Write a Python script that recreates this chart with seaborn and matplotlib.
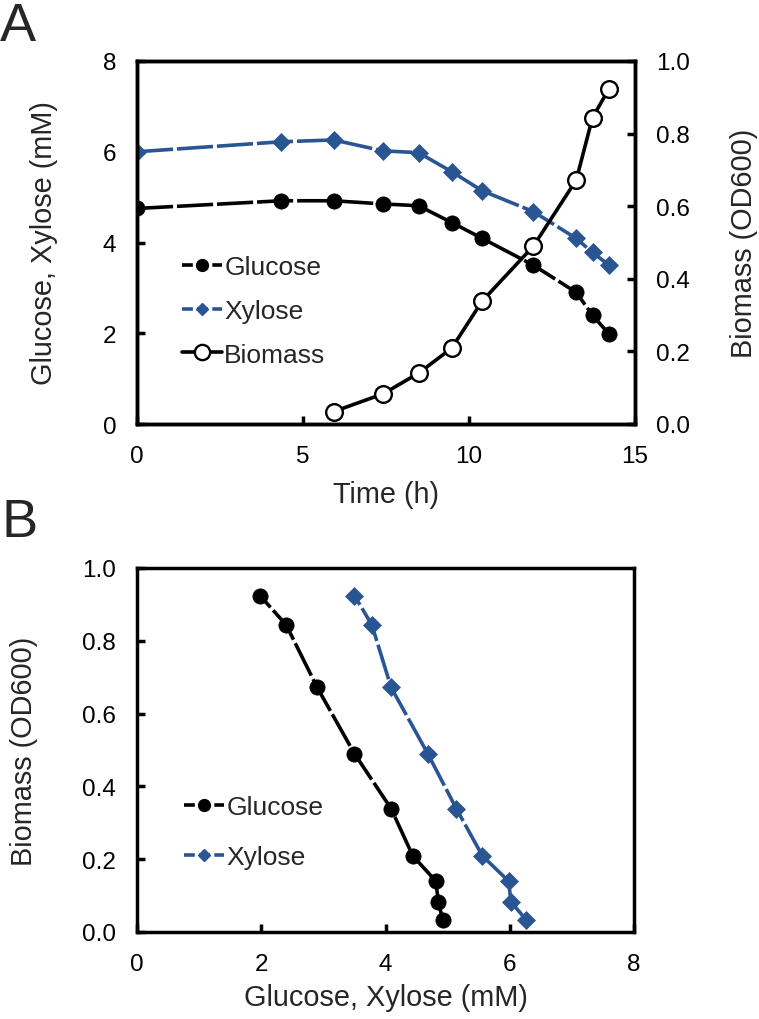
import numpy as np
import pandas as pd
import matplotlib
matplotlib.use("Agg")
import matplotlib.pyplot as plt
from matplotlib.lines import Line2D
import seaborn as sns

# ---- data ----
time_h = [0, 4.35, 5.92, 7.41, 8.48, 9.48, 10.40, 11.94, 13.23, 13.72, 14.22]
glucose = [4.75, 4.92, 4.92, 4.85, 4.81, 4.44, 4.09, 3.50, 2.90, 2.40, 1.98]
xylose = [6.00, 6.22, 6.26, 6.02, 5.98, 5.56, 5.14, 4.68, 4.09, 3.78, 3.50]
biomass_time = [5.92, 7.41, 8.48, 9.48, 10.40, 11.94, 13.23, 13.72, 14.22]
biomass = [0.034, 0.083, 0.140, 0.209, 0.339, 0.490, 0.672, 0.844, 0.924]
# panel B pairs (sugar at biomass time points)
glucose_b = [4.92, 4.85, 4.81, 4.44, 4.09, 3.50, 2.90, 2.40, 1.98]
xylose_b = [6.26, 6.02, 5.98, 5.56, 5.14, 4.68, 4.09, 3.78, 3.50]

x_ticks_a = [0, 5, 10, 15]
y_ticks_a = [0, 2, 4, 6, 8]
y2_ticks_a = [0.0, 0.2, 0.4, 0.6, 0.8, 1.0]
x_ticks_b = [0, 2, 4, 6, 8]
y_ticks_b = [0.0, 0.2, 0.4, 0.6, 0.8, 1.0]

sns.set_style("ticks")
plt.rcParams['font.family'] = ['Liberation Sans', 'DejaVu Sans']

BLUE = '#2A5593'
BLACK = '#000000'
LW = 2.6
DASH = (0, (10, 1.1))
TICK_FS = 17.5
LABEL_FS = 20.8
LEG_FS = 19
SPINE_W = 2.5

fig = plt.figure(figsize=(7.59, 10.2), dpi=100)
axA = fig.add_axes([137/759, 1-425/1020, 498/759, 363/1020])
axB = fig.add_axes([137/759, 1-933/1020, 497/759, 364/1020])

def style_axes(ax):
    for sp in ax.spines.values():
        sp.set_linewidth(SPINE_W)
        sp.set_color('black')
        sp.set_visible(True)
    ax.tick_params(direction='in', length=6, width=SPINE_W, labelsize=TICK_FS,
                   pad=15, colors='black')

# ---- Panel A ----
dfA = pd.DataFrame({'t': time_h, 'glc': glucose, 'xyl': xylose})
dfBio = pd.DataFrame({'t': biomass_time, 'bio': biomass})

sns.lineplot(data=dfA, x='t', y='xyl', ax=axA, color=BLUE, linewidth=LW,
             linestyle=DASH, marker='D', markersize=9, markeredgewidth=0.5,
             markeredgecolor=BLUE, markerfacecolor=BLUE, estimator=None, sort=False)
sns.lineplot(data=dfA, x='t', y='glc', ax=axA, color=BLACK, linewidth=LW,
             linestyle=DASH, marker='o', markersize=11, markeredgewidth=0.5,
             markeredgecolor=BLACK, markerfacecolor=BLACK, estimator=None, sort=False)
axA.set_xlim(0, 15)
axA.set_ylim(0, 8)
axA.set_xticks(x_ticks_a)
axA.set_yticks(y_ticks_a)
axA.set_xlabel('Time (h)', fontsize=LABEL_FS)
axA.set_ylabel('Glucose, Xylose (mM)', fontsize=LABEL_FS)
style_axes(axA)

axA2 = axA.twinx()
sns.lineplot(data=dfBio, x='t', y='bio', ax=axA2, color=BLACK, linewidth=LW,
             marker='o', markersize=12, markeredgewidth=1.7,
             markeredgecolor=BLACK, markerfacecolor='white', estimator=None, sort=False)
axA2.set_ylim(0, 1)
axA2.set_yticks(y2_ticks_a)
axA2.set_yticklabels([f'{v:.1f}' for v in y2_ticks_a])
axA2.set_ylabel('Biomass (OD600)', fontsize=LABEL_FS)
style_axes(axA2)
axA2.tick_params(axis='y', right=True, left=False)

axA.xaxis.set_label_coords(0.5, -0.155)
axA.yaxis.set_label_coords((58-137)/498, 0.5)
axA2.yaxis.set_label_coords((730-137)/498, 0.5)

h_glc = Line2D([], [], color=BLACK, lw=LW, ls=(0, (3, 1.2)), marker='o', ms=8.5,
               mfc=BLACK, mec=BLACK)
h_xyl = Line2D([], [], color=BLUE, lw=LW, ls=(0, (3, 1.2)), marker='D', ms=6,
               mfc=BLUE, mec=BLUE)
h_bio = Line2D([], [], color=BLACK, lw=LW, ls='-', marker='o', ms=11,
               mfc='white', mec=BLACK, mew=1.7)
legA = axA2.legend([h_glc, h_xyl, h_bio], ['Glucose', 'Xylose', 'Biomass'],
                   loc='upper left', bbox_to_anchor=((182-137)/498, (425-256)/363),
                   frameon=False, fontsize=LEG_FS, handlelength=1.5,
                   handletextpad=0.1, labelspacing=0.75, borderaxespad=0,
                   borderpad=0)

# ---- Panel B ----
dfB = pd.DataFrame({'glc': glucose_b, 'xyl': xylose_b, 'bio': biomass})
sns.lineplot(data=dfB, x='xyl', y='bio', ax=axB, color=BLUE, linewidth=LW,
             linestyle=DASH, marker='D', markersize=9, markeredgewidth=0.5,
             markeredgecolor=BLUE, markerfacecolor=BLUE, estimator=None, sort=False)
sns.lineplot(data=dfB, x='glc', y='bio', ax=axB, color=BLACK, linewidth=LW,
             linestyle=DASH, marker='o', markersize=11, markeredgewidth=0.5,
             markeredgecolor=BLACK, markerfacecolor=BLACK, estimator=None, sort=False)
axB.set_xlim(0, 8)
axB.set_ylim(0, 1)
axB.set_xticks(x_ticks_b)
axB.set_yticks(y_ticks_b)
axB.set_yticklabels([f'{v:.1f}' for v in y_ticks_b])
axB.set_xlabel('Glucose, Xylose (mM)', fontsize=LABEL_FS)
axB.set_ylabel('Biomass (OD600)', fontsize=LABEL_FS)
style_axes(axB)
axB.xaxis.set_label_coords(0.5, -0.14)
axB.yaxis.set_label_coords((38-137)/497, 0.5)

legB = axB.legend([h_glc, h_xyl], ['Glucose', 'Xylose'],
                  loc='upper left', bbox_to_anchor=((184-137)/497, (933-796)/364),
                  frameon=False, fontsize=LEG_FS, handlelength=1.5,
                  handletextpad=0.1, labelspacing=1.0, borderaxespad=0,
                  borderpad=0)

fig.text(0.0, 1-41/1020, 'A', fontsize=39, va='baseline', ha='left')
fig.text(2/759, 1-537/1020, 'B', fontsize=39, va='baseline', ha='left')

fig.savefig('out.png', dpi=100)
